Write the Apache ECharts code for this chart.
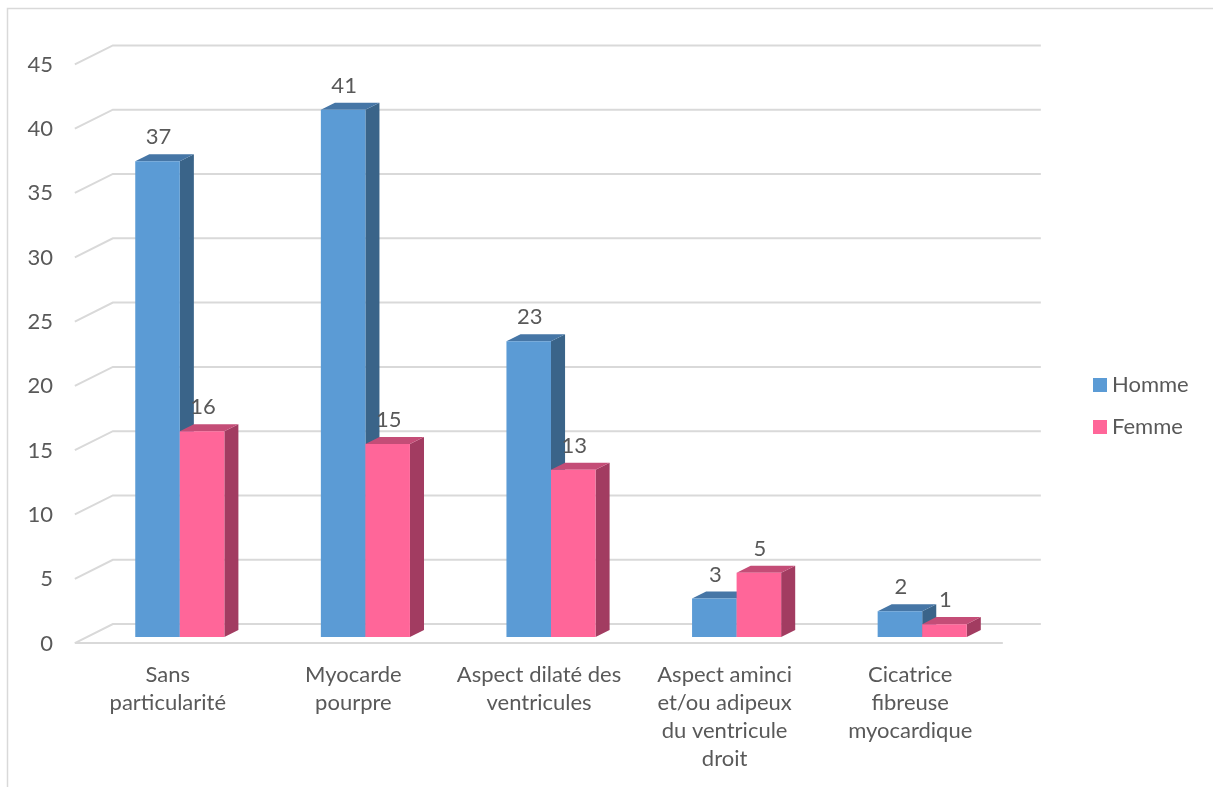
<!DOCTYPE html>
<html>
<head>
<meta charset="utf-8">
<script src="https://cdn.jsdelivr.net/npm/echarts@6/dist/echarts.min.js"></script>
<style>
  html, body { margin: 0; padding: 0; background: #fff; }
  #chart { width: 1213px; height: 787px; }
</style>
</head>
<body>
<div id="chart"></div>
<script>
// Category labels (line breaks as shown under the axis)
const categories = [
  'Sans\nparticularité',
  'Myocarde\npourpre',
  'Aspect dilaté des\nventricules',
  'Aspect aminci\net/ou adipeux\ndu ventricule\ndroit',
  'Cicatrice\nfibreuse\nmyocardique'
];
const homme = [37, 41, 23, 3, 2];
const femme = [16, 15, 13, 5, 1];
const yTicks = [0, 5, 10, 15, 20, 25, 30, 35, 40, 45];

// Fake-3D geometry: full depth of the box and where the bar faces sit in it
const DEPTH_X = 38, DEPTH_Y = 19;
const BAR_PLANE = 0.32;   // depth fraction of the bar front faces
const BAR_DEPTH = 0.37;   // depth fraction occupied by each bar
const BAR_FRAC = 0.24;    // bar width as a fraction of a category band

const FONT = 'Lato';
const FONT_SIZE = 22;
const TEXT = '#595959';
const GRID_LINE = '#D9D9D9';

const palette = {
  Homme: { front: '#5B9BD5', top: '#4676A6', side: '#3A6489' },
  Femme: { front: '#FF6699', top: '#C44D77', side: '#A23C61' }
};

// Back wall + floor gridlines, projected from the bar plane
function renderWalls(params, api) {
  const v = api.value(1);
  const band = api.size([1, 0])[0];
  const p0 = api.coord([0, v]);
  const pN = api.coord([categories.length - 1, v]);
  const L = p0[0] - band / 2, R = pN[0] + band / 2, y = p0[1];
  const fdx = BAR_PLANE * DEPTH_X, fdy = BAR_PLANE * DEPTH_Y;
  const bdx = (1 - BAR_PLANE) * DEPTH_X, bdy = (1 - BAR_PLANE) * DEPTH_Y;
  const style = { stroke: GRID_LINE, lineWidth: 2, fill: null };
  const children = [{
    type: 'polyline',
    shape: { points: [[L - fdx, y + fdy], [L + bdx, y - bdy], [R + bdx, y - bdy]] },
    style: style
  }];
  if (v === 0) {
    children.push({
      type: 'line',
      shape: { x1: L - fdx, y1: y + fdy, x2: R - fdx, y2: y + fdy },
      style: style
    });
  }
  return { type: 'group', children: children };
}

function makeBarRenderer(side, colors) {
  return function (params, api) {
    const idx = api.value(0), val = api.value(1);
    const band = api.size([1, 0])[0];
    const w = band * BAR_FRAC;
    const base = api.coord([idx, 0]);
    const top = api.coord([idx, val]);
    const x0 = side < 0 ? base[0] - w : base[0];
    const x1 = x0 + w;
    const yb = base[1], yt = top[1];
    const dx = BAR_DEPTH * DEPTH_X, dy = BAR_DEPTH * DEPTH_Y;
    return {
      type: 'group',
      children: [
        { type: 'polygon', shape: { points: [[x1, yt], [x1 + dx, yt - dy], [x1 + dx, yb - dy], [x1, yb]] },
          style: { fill: colors.side } },
        { type: 'polygon', shape: { points: [[x0, yt], [x0 + dx, yt - dy], [x1 + dx, yt - dy], [x1, yt]] },
          style: { fill: colors.top } },
        { type: 'rect', shape: { x: x0, y: yt, width: w, height: yb - yt },
          style: { fill: colors.front } },
        { type: 'text', x: (x0 + x1) / 2 + 1, y: yt - 24,
          style: { text: String(val), fill: TEXT, font: FONT_SIZE + 'px ' + FONT,
                   align: 'center', verticalAlign: 'middle' } }
      ]
    };
  };
}

const chart = echarts.init(document.getElementById('chart'), null, { renderer: 'canvas' });

chart.setOption({
  backgroundColor: '#ffffff',
  animation: false,
  graphic: [{
    type: 'rect', silent: true,
    shape: { x: 7.5, y: 8.5, width: 1400, height: 1000 },
    style: { fill: null, stroke: GRID_LINE, lineWidth: 1.5 }
  }],
  grid: { left: 87, right: 198, top: 58.3, bottom: 150 },
  legend: {
    data: ['Homme', 'Femme'],
    orient: 'vertical',
    left: 1088, top: 369,
    icon: 'rect', itemWidth: 14, itemHeight: 14, itemGap: 20,
    textStyle: { fontFamily: FONT, fontSize: FONT_SIZE, color: TEXT }
  },
  xAxis: {
    type: 'category',
    data: categories,
    axisLine: { show: false },
    axisTick: { show: false },
    axisLabel: {
      interval: 0, margin: 24, lineHeight: 28,
      padding: [0, 24, 0, 0],
      fontFamily: FONT, fontSize: FONT_SIZE, color: TEXT
    }
  },
  yAxis: {
    type: 'value', min: 0, max: 45, interval: 5,
    axisLine: { show: false },
    axisTick: { show: false },
    splitLine: { show: false },
    axisLabel: {
      margin: 34,
      formatter: '{v|{value}}',
      rich: { v: { padding: [13, 0, 0, 0], fontFamily: FONT, fontSize: FONT_SIZE, color: TEXT } }
    }
  },
  series: [
    {
      type: 'custom', name: 'walls', silent: true, clip: false, z: 1,
      encode: { x: 0, y: 1 },
      data: yTicks.map(v => [0, v]),
      renderItem: renderWalls
    },
    {
      type: 'custom', name: 'Homme', clip: false, z: 2,
      itemStyle: { color: palette.Homme.front },
      encode: { x: 0, y: 1 },
      data: homme.map((v, i) => [i, v]),
      renderItem: makeBarRenderer(-1, palette.Homme)
    },
    {
      type: 'custom', name: 'Femme', clip: false, z: 3,
      itemStyle: { color: palette.Femme.front },
      encode: { x: 0, y: 1 },
      data: femme.map((v, i) => [i, v]),
      renderItem: makeBarRenderer(1, palette.Femme)
    }
  ]
});
</script>
</body>
</html>
